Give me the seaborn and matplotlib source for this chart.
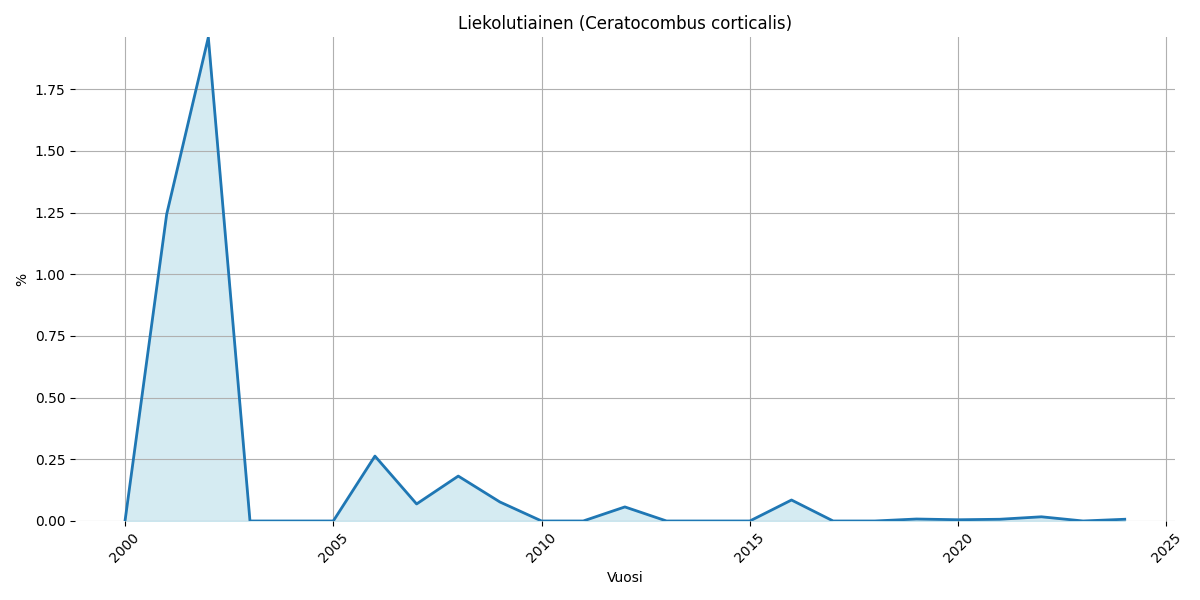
import pandas as pd
import numpy as np
import matplotlib
matplotlib.use("Agg")
import matplotlib.pyplot as plt
import seaborn as sns

years = list(range(2000, 2025))
percent = [0.0, 1.243, 1.96, 0.0, 0.0, 0.0, 0.263, 0.069, 0.182, 0.077,
           0.0, 0.0, 0.057, 0.0, 0.0, 0.0, 0.085, 0.0, 0.0, 0.008,
           0.005, 0.007, 0.017, 0.0, 0.007]

df = pd.DataFrame({'Vuosi': years, 'Prosentti': percent})

fig, ax = plt.subplots(figsize=(12, 6), dpi=100)
sns.lineplot(data=df, x='Vuosi', y='Prosentti', ax=ax, color='#1f77b4', linewidth=2)
ax.fill_between(df['Vuosi'], df['Prosentti'], color='lightblue', alpha=0.5)

ax.set_title('Liekolutiainen (Ceratocombus corticalis)')
ax.set_xlabel('Vuosi')
ax.set_ylabel('%')
ax.set_ylim(0, max(percent))
ax.grid(True, color='#b0b0b0')
ax.tick_params(axis='x', rotation=45)
sns.despine(left=True, bottom=True)

plt.tight_layout()
plt.savefig('out.png')
